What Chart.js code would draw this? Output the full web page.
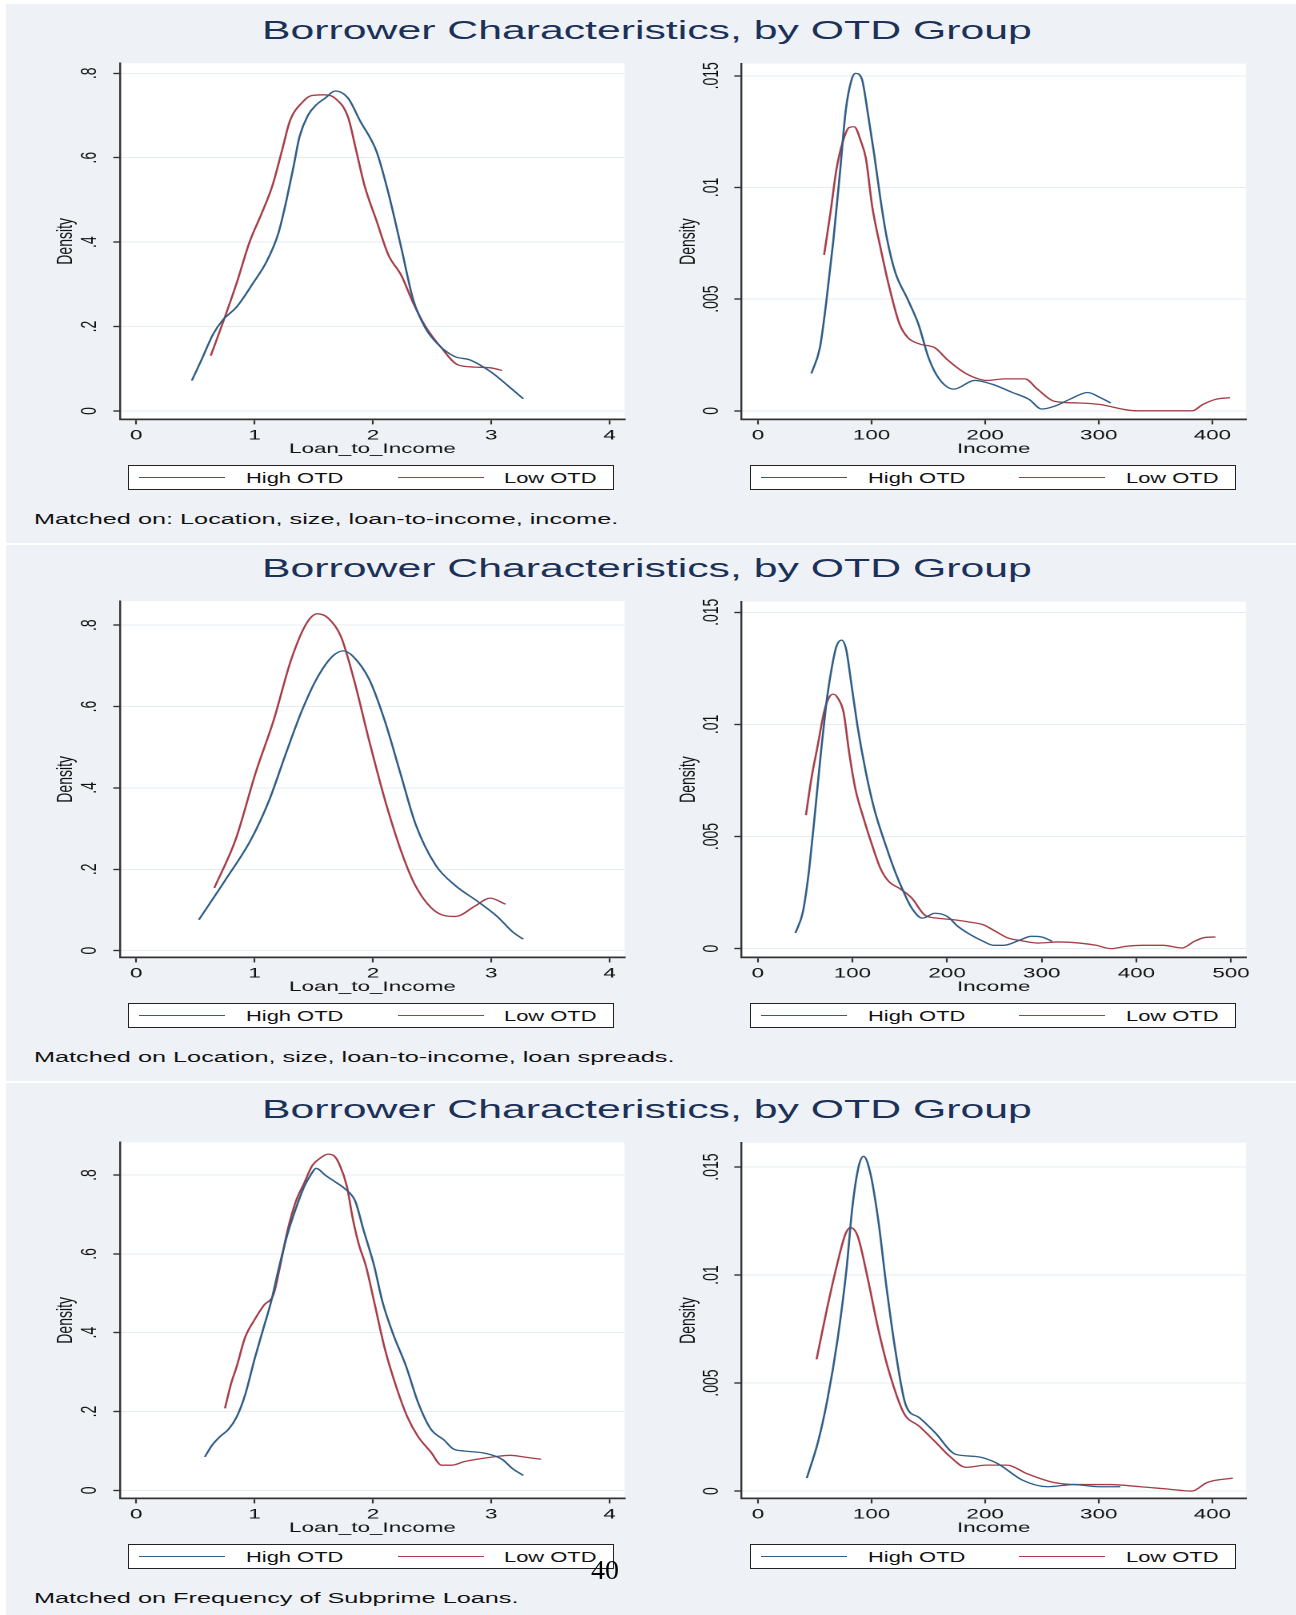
<!DOCTYPE html>
<html lang="en">
<head>
<meta charset="UTF-8">
<title>Borrower Characteristics, by OTD Group</title>
<script src="https://cdn.jsdelivr.net/npm/chart.js"></script>
<style>
  body { margin: 0; width: 1296px; height: 1615px; background: #fff; position: relative; overflow: hidden;
         font-family: "Liberation Sans", Arial, sans-serif; }
  .band { position: absolute; left: 6px; width: 1290px; background: #eef2f7; }
  .title { position: absolute; font-size: 25px; line-height: 1; color: #1c3158; white-space: nowrap;
           transform-origin: 0 0; transform: scaleX(1.71); }
  .note { position: absolute; font-size: 15.5px; line-height: 1; color: #111; white-space: nowrap;
          transform-origin: 0 0; transform: scaleX(1.63); }
  .wrap { position: absolute; transform-origin: 0 0; }
  .legend { position: absolute; width: 486px; height: 25px; box-sizing: border-box; border: 1.5px solid #222; background: #fff; }
  .legend .ln { position: absolute; top: 11px; width: 86px; height: 1.5px; }
  .legend .tx { position: absolute; top: 4px; font-size: 15px; line-height: 1; color: #111; white-space: nowrap;
                transform-origin: 0 0; transform: scaleX(1.46); }
  .page { position: absolute; left: 591px; top: 1556px; font-family: "Liberation Serif", serif; font-size: 28px; line-height: 1; color: #000; }
</style>
</head>
<body>
<div class="page">40</div>
<script>
  const K = 1.6; // the original graphs are stretched sideways
  const FONT = '"Liberation Sans", Arial, sans-serif';
  const ROW_OFFSET = [0, 538, 1079];

  const titles = ['Borrower Characteristics, by OTD Group', 'Borrower Characteristics, by OTD Group', 'Borrower Characteristics, by OTD Group'];
  const notes = ['Matched on: Location, size, loan-to-income, income.',
                 'Matched on Location, size, loan-to-income, loan spreads.',
                 'Matched on Frequency of Subprime Loans.'];
  const seriesNames = ['High OTD', 'Low OTD'];
  const seriesColors = ['#2f5d86', '#a63d48'];

  const ltiTicks = [0, 1, 2, 3, 4];
  const income4Ticks = [0, 100, 200, 300, 400];
  const income5Ticks = [0, 100, 200, 300, 400, 500];
  const densLtiTicks = [0, 0.2, 0.4, 0.6, 0.8];
  const densIncTicks = [0, 0.005, 0.01, 0.015];

  // row 1: matched on location, size, loan-to-income, income
  const r1LtiHigh = [[0.47,0.072],[0.55,0.12],[0.65,0.182],[0.73,0.215],[0.85,0.247],[0.99,0.304],[1.1,0.353],[1.2,0.42],
    [1.27,0.5],[1.33,0.58],[1.38,0.65],[1.45,0.70],[1.52,0.725],[1.6,0.742],[1.68,0.758],[1.79,0.741],[1.89,0.688],
    [2.03,0.615],[2.13,0.517],[2.24,0.386],[2.34,0.264],[2.44,0.198],[2.55,0.158],[2.69,0.129],[2.82,0.121],
    [3.0,0.092],[3.14,0.06],[3.27,0.029]];
  const r1LtiLow = [[0.63,0.131],[0.75,0.223],[0.85,0.304],[0.96,0.402],[1.06,0.468],[1.15,0.533],[1.23,0.615],
    [1.3,0.688],[1.41,0.733],[1.48,0.747],[1.58,0.749],[1.68,0.741],[1.79,0.696],[1.86,0.615],[1.93,0.533],
    [2.03,0.451],[2.13,0.37],[2.24,0.321],[2.34,0.256],[2.44,0.202],[2.58,0.149],[2.72,0.109],[2.86,0.104],
    [3.0,0.102],[3.09,0.096]];
  const r1IncHigh = [[47,0.00167],[54.5,0.00282],[60,0.00482],[66.3,0.0076],[72.2,0.01068],[77.3,0.01346],[82.1,0.01477],
    [85.8,0.01511],[91.3,0.01488],[96.8,0.0133],[102.4,0.01145],[107.9,0.00945],[113.4,0.00775],[120.8,0.00621],
    [131.9,0.00498],[141.1,0.0039],[150.3,0.00236],[159.5,0.00143],[172.4,0.00097],[190.8,0.00136],[205.5,0.0012],
    [224,0.00082],[238.7,0.00051],[249.7,0.00008],[260.8,0.0002],[275.5,0.00054],[290.2,0.00082],[301.3,0.00059],
    [310.5,0.00035]];
  const r1IncLow = [[58.2,0.00698],[63.7,0.00883],[69.2,0.01084],[74.8,0.01207],[80.3,0.01269],[84.7,0.01272],
    [90.6,0.01207],[95,0.0113],[100.6,0.00914],[107.9,0.00729],[115.3,0.0056],[124.5,0.0039],[131.9,0.00328],
    [142.9,0.00298],[155.8,0.00282],[166.9,0.00228],[183.4,0.00166],[201.8,0.00136],[216.6,0.00143],[235,0.00143],
    [246,0.00097],[260.8,0.00043],[282.9,0.00035],[301.3,0.00028],[323.4,0.00005],[334.4,0],[382.3,0],
    [391.5,0.00028],[402.6,0.00051],[415.5,0.00059]];

  // row 2: matched on location, size, loan-to-income, loan spreads
  const r2LtiHigh = [[0.53,0.076],[0.75,0.172],[0.97,0.273],[1.12,0.367],[1.27,0.489],[1.4,0.59],[1.53,0.671],
    [1.66,0.724],[1.75,0.737],[1.83,0.724],[1.97,0.666],[2.1,0.565],[2.23,0.438],[2.36,0.311],[2.53,0.21],
    [2.7,0.159],[2.88,0.122],[3.05,0.084],[3.18,0.046],[3.27,0.028]];
  const r2LtiLow = [[0.66,0.154],[0.84,0.273],[1.01,0.438],[1.16,0.565],[1.31,0.716],[1.44,0.805],[1.53,0.828],
    [1.62,0.818],[1.73,0.772],[1.84,0.666],[1.97,0.514],[2.11,0.362],[2.25,0.235],[2.36,0.159],[2.53,0.096],
    [2.7,0.084],[2.86,0.109],[2.99,0.129],[3.12,0.114]];
  const r2IncHigh = [[39.8,0.0007],[47.8,0.00166],[54.4,0.00358],[60.2,0.00595],[66.4,0.00861],[72.1,0.01083],
    [77.9,0.01246],[83.2,0.01349],[88.5,0.01376],[93.4,0.01334],[98.7,0.01186],[105.3,0.00994],[114.2,0.00787],
    [123,0.00624],[136.3,0.00447],[145.1,0.00343],[154,0.00254],[162.8,0.0018],[173.9,0.00136],[187.2,0.00158],
    [200.4,0.00143],[211.5,0.00099],[224.8,0.00062],[238,0.00033],[249.1,0.00015],[260.2,0.00015],[275.7,0.00036],
    [289,0.00055],[300,0.00052],[311,0.00033]];
  const r2IncLow = [[50.9,0.00595],[56.6,0.00757],[63.3,0.00905],[69.9,0.01053],[74.3,0.01112],[79.6,0.01135],
    [85.4,0.01112],[90.7,0.01053],[96.5,0.00876],[103.1,0.00713],[111.9,0.0058],[120.8,0.00462],[129.6,0.00358],
    [138.5,0.00299],[149.6,0.00269],[162.8,0.00225],[176.1,0.00151],[189.4,0.00136],[207.1,0.00129],[224.8,0.00118],
    [238,0.00107],[251.3,0.00077],[264.6,0.00047],[277.9,0.00036],[295.6,0.00025],[317.7,0.0003],[339.8,0.00025],
    [357.5,0.00015],[373,0],[388.5,0.0001],[406.2,0.00015],[428.3,0.00015],[448.2,0.00003],[461.5,0.00033],
    [472.6,0.0005],[483.6,0.00052]];

  // row 3: matched on frequency of subprime loans
  const r3LtiHigh = [[0.58,0.085],[0.64,0.114],[0.71,0.137],[0.78,0.155],[0.85,0.187],[0.92,0.242],[1.0,0.333],
    [1.07,0.406],[1.14,0.479],[1.21,0.57],[1.28,0.652],[1.35,0.716],[1.42,0.771],[1.48,0.803],[1.52,0.817],
    [1.6,0.799],[1.69,0.781],[1.76,0.766],[1.85,0.734],[1.92,0.661],[2.01,0.57],[2.08,0.479],[2.17,0.397],
    [2.28,0.315],[2.38,0.224],[2.49,0.155],[2.6,0.128],[2.68,0.105],[2.77,0.1],[2.95,0.094],[3.09,0.079],
    [3.18,0.055],[3.27,0.038]];
  const r3LtiLow = [[0.75,0.208],[0.8,0.269],[0.85,0.315],[0.92,0.388],[1.0,0.433],[1.08,0.47],[1.16,0.497],
    [1.21,0.561],[1.28,0.661],[1.35,0.734],[1.42,0.78],[1.49,0.825],[1.56,0.844],[1.62,0.853],[1.67,0.849],
    [1.72,0.825],[1.78,0.771],[1.83,0.689],[1.88,0.625],[1.94,0.57],[2.01,0.479],[2.1,0.36],[2.2,0.26],
    [2.29,0.187],[2.38,0.137],[2.49,0.097],[2.58,0.064],[2.67,0.064],[2.77,0.073],[2.88,0.079],[3.02,0.085],
    [3.16,0.089],[3.27,0.085],[3.42,0.079]];
  const r3IncHigh = [[43,0.0006],[53,0.0023],[61,0.0042],[70,0.007],[78,0.0103],[83,0.0131],[88.5,0.015],[93,0.0155],
    [99,0.0147],[106,0.0125],[113,0.0095],[121,0.0065],[130,0.004],[142,0.0034],[156,0.0027],[174,0.0017],
    [192,0.0016],[210,0.0013],[233,0.0005],[255,0.0002],[278,0.0003],[300,0.0002],[319,0.0002]];
  const r3IncLow = [[51.6,0.0061],[60.6,0.0084],[69.7,0.0105],[77,0.0119],[81.4,0.0122],[87.8,0.0118],[96.8,0.0098],
    [105.9,0.0075],[115,0.0056],[128.5,0.0036],[142,0.003],[155.7,0.0023],[169,0.0016],[183,0.0011],[201,0.0012],
    [219,0.0012],[237,0.0008],[260,0.0004],[282,0.0003],[309.5,0.0003],[336.7,0.0002],[359,0.0001],[382,0],
    [395.5,0.0004],[418,0.0006]];

  // panel frames, in page pixels of row 1 (left: loan-to-income, right: income)
  const FRAME = {
    left:  { x: 40,  y: 40, w: 600, h: 430, areaL: 120.5, areaR: 624.5, yTickX: 90,  yTitleX: 66,  legendX: 128.3 },
    right: { x: 650, y: 40, w: 616, h: 430, areaL: 741.5, areaR: 1245.9, yTickX: 712, yTitleX: 689, legendX: 750 }
  };
  const AREA_BOTTOM = 419.4;

  const panels = [
    { row: 0, side: 'left',  xTitle: 'Loan_to_Income', xTicks: ltiTicks, xRange: [-0.1325, 4.125], yTicks: densLtiTicks, yRange: [-0.0199, 0.8237], top: 63.3, high: r1LtiHigh, low: r1LtiLow },
    { row: 0, side: 'right', xTitle: 'Income', xTicks: income4Ticks, xRange: [-14.5, 429.5], yTicks: densIncTicks, yRange: [-0.000385, 0.015542], top: 63.7, high: r1IncHigh, low: r1IncLow },
    { row: 1, side: 'left',  xTitle: 'Loan_to_Income', xTicks: ltiTicks, xRange: [-0.1325, 4.125], yTicks: densLtiTicks, yRange: [-0.0167, 0.8588], top: 63.3, high: r2LtiHigh, low: r2LtiLow },
    { row: 1, side: 'right', xTitle: 'Income', xTicks: income5Ticks, xRange: [-17.2, 515.7], yTicks: densIncTicks, yRange: [-0.00039, 0.015473], top: 63.7, high: r2IncHigh, low: r2IncLow },
    { row: 2, side: 'left',  xTitle: 'Loan_to_Income', xTicks: ltiTicks, xRange: [-0.1325, 4.125], yTicks: densLtiTicks, yRange: [-0.0203, 0.883], top: 63.3, high: r3LtiHigh, low: r3LtiLow },
    { row: 2, side: 'right', xTitle: 'Income', xTicks: income4Ticks, xRange: [-14.5, 429.5], yTicks: densIncTicks, yRange: [-0.00034, 0.01613], top: 63.7, high: r3IncHigh, low: r3IncLow }
  ];

  // bands and white separators
  const bandTops = [4, 544.8, 1082.5];
  const bandBottoms = [543.3, 1081, 1615];
  bandTops.forEach((t, i) => {
    const d = document.createElement('div');
    d.className = 'band';
    d.style.top = t + 'px';
    d.style.height = (bandBottoms[i] - t) + 'px';
    document.body.insertBefore(d, document.body.firstChild);
  });

  function addText(cls, text, left, top) {
    const d = document.createElement('div');
    d.className = cls;
    d.textContent = text;
    d.style.left = left + 'px';
    d.style.top = top + 'px';
    document.body.appendChild(d);
    return d;
  }

  titles.forEach((t, i) => addText('title', t, 261.7, 18.1 + ROW_OFFSET[i]));
  notes.forEach((t, i) => addText('note', t, 33.5, 510.9 + ROW_OFFSET[i]));

  const fmtDensity = v => (v === 0 ? '0' : String(v).replace(/^0\./, '.'));

  const plotBg = {
    id: 'plotBg',
    beforeDraw(chart) {
      const { ctx, chartArea: a } = chart;
      ctx.save();
      ctx.fillStyle = '#ffffff';
      ctx.fillRect(a.left, a.top, a.right - a.left, a.bottom - a.top);
      ctx.restore();
    }
  };

  function buildPanel(p) {
    const f = FRAME[p.side];
    const off = ROW_OFFSET[p.row];
    const wInner = f.w / K;
    const areaL = (f.areaL - f.x) / K;
    const areaR = (f.areaR - f.x) / K;
    const areaT = p.top - f.y;
    const areaB = AREA_BOTTOM - f.y;
    const xAxisH = 40;
    const tickLenY = 4.5;
    const yFontSize = 14;

    const wrap = document.createElement('div');
    wrap.className = 'wrap';
    wrap.style.left = f.x + 'px';
    wrap.style.top = (f.y + off) + 'px';
    wrap.style.transform = 'scaleX(' + K + ')';
    const canvas = document.createElement('canvas');
    canvas.width = wInner;
    canvas.height = f.h;
    wrap.appendChild(canvas);
    document.body.appendChild(wrap);

    // y tick labels are turned on their side and centred on yTickX
    const mctx = canvas.getContext('2d');
    mctx.font = yFontSize + 'px ' + FONT;
    const widest = Math.max(...p.yTicks.map(v => mctx.measureText(fmtDensity(v)).width));
    const yTickPad = areaL - tickLenY - widest / 2 - (f.yTickX - f.x) / K;
    const yTitlePad = (f.yTitleX - f.x) / K - 14 * 1.2 / 2;

    const chart = new Chart(canvas, {
      type: 'line',
      data: {
        datasets: [p.high, p.low].map((pts, i) => ({
          label: seriesNames[i],
          data: pts.map(([x, y]) => ({ x, y })),
          borderColor: seriesColors[i],
          borderWidth: 1.3,
          pointRadius: 0,
          fill: false,
          cubicInterpolationMode: 'monotone'
        }))
      },
      options: {
        responsive: false,
        animation: false,
        devicePixelRatio: 2,
        layout: { padding: { left: 0, top: areaT, right: wInner - areaR, bottom: f.h - areaB - xAxisH } },
        plugins: { legend: { display: false }, tooltip: { enabled: false } },
        scales: {
          x: {
            type: 'linear', min: p.xRange[0], max: p.xRange[1],
            afterBuildTicks: s => { s.ticks = p.xTicks.map(v => ({ value: v })); },
            afterFit: s => { s.height = xAxisH; },
            grid: { drawOnChartArea: false, drawTicks: true, tickLength: 5, tickColor: '#333', tickWidth: 1.1 },
            border: { color: '#333', width: 1.8 },
            ticks: { color: '#111', font: { family: FONT, size: 14 }, padding: 3, maxRotation: 0, autoSkip: false,
                     callback: v => String(v) },
            title: { display: true, text: p.xTitle, color: '#111', font: { family: FONT, size: 14 },
                     padding: { top: 0, bottom: 2 } }
          },
          y: {
            type: 'linear', min: p.yRange[0], max: p.yRange[1],
            afterBuildTicks: s => { s.ticks = p.yTicks.map(v => ({ value: v })); },
            afterFit: s => { s.width = areaL; },
            grid: { color: '#e6edf1', lineWidth: 1, drawTicks: true, tickLength: tickLenY, tickColor: '#333', tickWidth: 1.4 },
            border: { color: '#333', width: 1.2 },
            ticks: { color: '#111', font: { family: FONT, size: yFontSize }, padding: yTickPad, minRotation: 90, maxRotation: 90,
                     crossAlign: 'center', autoSkip: false, callback: fmtDensity },
            title: { display: true, text: 'Density', color: '#111', font: { family: FONT, size: 14 },
                     padding: { top: yTitlePad, bottom: 0 } }
          }
        }
      },
      plugins: [plotBg]
    });

    // boxed legend under the plot, built from the chart's datasets
    const lg = document.createElement('div');
    lg.className = 'legend';
    lg.style.left = f.legendX + 'px';
    lg.style.top = (464.5 + off) + 'px';
    const lineX = [9.7, 268.4];
    const textX = [116.7, 375];
    chart.data.datasets.forEach((ds, i) => {
      const ln = document.createElement('span');
      ln.className = 'ln';
      ln.style.left = lineX[i] + 'px';
      ln.style.background = ds.borderColor;
      lg.appendChild(ln);
      const tx = document.createElement('span');
      tx.className = 'tx';
      tx.style.left = textX[i] + 'px';
      tx.textContent = ds.label;
      lg.appendChild(tx);
    });
    document.body.appendChild(lg);
  }

  panels.forEach(buildPanel);
  // keep the page number above the legend boxes
  document.body.appendChild(document.querySelector('.page'));
</script>
</body>
</html>
